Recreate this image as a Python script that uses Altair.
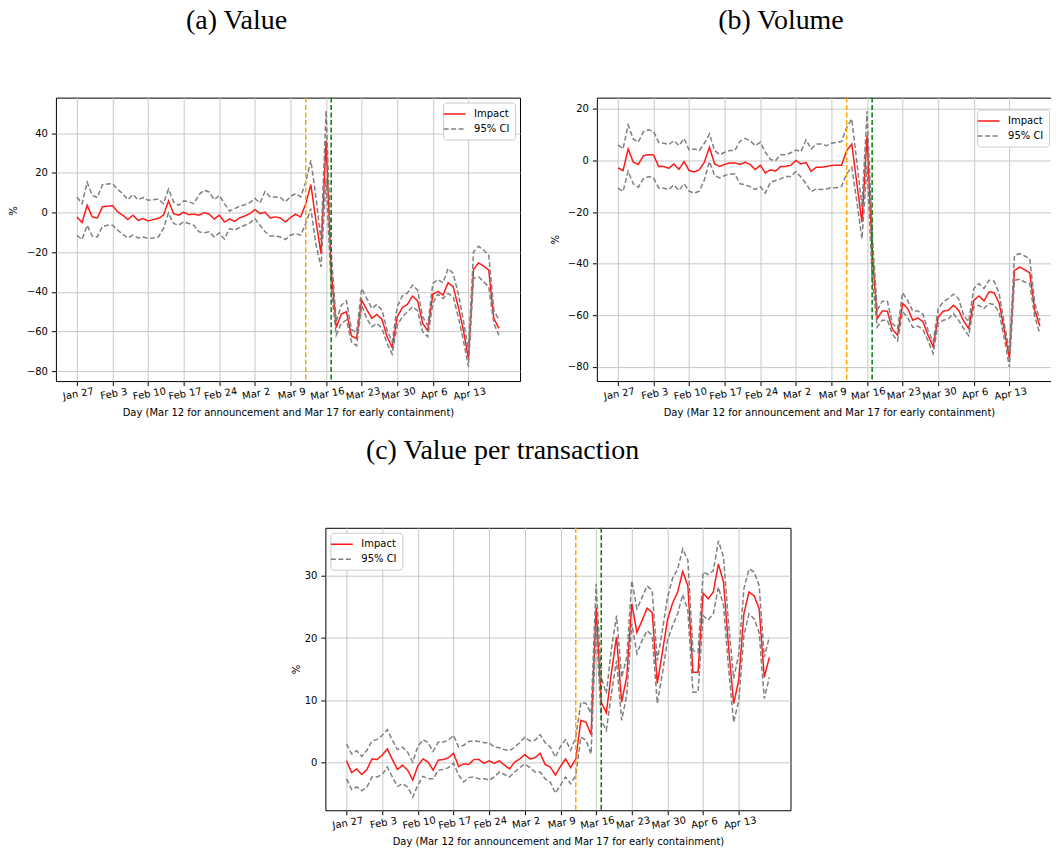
import json
import altair as alt
import pandas as pd

# ---------------- data ----------------
TICK_LABELS = ["Jan 27", "Feb 3", "Feb 10", "Feb 17", "Feb 24", "Mar 2", "Mar 9",
               "Mar 16", "Mar 23", "Mar 30", "Apr 6", "Apr 13"]
SERIES = ["Impact", "95% CI"]
ANNOUNCEMENT_DAY = 45   # Mar 12 (days since Jan 27)
CONTAINMENT_DAY = 50    # Mar 17
X_LABEL = "Day (Mar 12 for announcement and Mar 17 for early containment)"

VALUE_IMPACT = [-2.2, -5, 3.7, -2.2, -2.7, 2.9, 3.2, 3.5, 0.3, -1.3, -3.5, -1.3, -3.9, -3, -4.2,
                -3.5, -3, -1.3, 5.9, -0.5, -1.3, 0.2, -1, -0.8, -1.3, 0, -0.8, -3.2, -1.3, -4.7,
                -3.2, -4.4, -2.7, -1.7, -0.5, 1.5, -0.5, 0.2, -2.7, -2.2, -2.7, -4.7, -2.5, -0.8,
                -2.2, 4.5, 14.1, -4, -20.7, 36.4, -29, -58, -51.2, -50, -62.3, -63.5, -44.2,
                -48.9, -53.4, -51.4, -53.9, -62.6, -68, -52.6, -47.9, -46.3, -42.1, -44.5,
                -55.9, -59.6, -41.1, -39.8, -41.6, -35.4, -37.4, -47.5, -59.3, -73.6, -28.7,
                -25.4, -27, -29, -53.4, -58.4]
VALUE_UPPER = [7.9, 4.5, 15.3, 8.7, 7.6, 14.1, 14.4, 14.6, 11.6, 9.6, 6.5, 9.1, 6.5, 7.6, 6.2,
               6.5, 6.9, 4.5, 11.8, 5.4, 3.7, 5.9, 5.4, 4.5, 9.1, 11.3, 10.4, 6.5, 8.7, 4.5,
               0.8, 2, 3.2, 4, 5, 7.1, 4.9, 10.7, 7.9, 7.9, 7.6, 5.4, 8.2, 9.6, 7.9, 15.4, 26.4,
               8, -14, 51.5, -20, -55, -46.7, -44.5, -59, -60.6, -38.3, -43.3, -48.4, -46.3,
               -49.2, -59.3, -65.2, -47.5, -42.1, -40.5, -36.6, -39.1, -52.6, -56.8, -35.7,
               -33.8, -35.4, -28.2, -30.7, -40.8, -54.2, -69.4, -19.8, -17, -19, -21.5, -49.2,
               -54.2]
VALUE_LOWER = [-11.4, -13.6, -6.4, -11.9, -12.3, -6.9, -6.4, -6.4, -8.9, -10.9, -12.8, -11.4,
               -12.8, -12.3, -13.1, -12.8, -12.3, -8.1, -0.2, -5.5, -6.4, -4.7, -5.5, -6.4,
               -9.7, -10.2, -9.7, -12.3, -10.2, -13.4, -8.1, -8.9, -7.6, -6.4, -5.2, -3, -6.4,
               -9.7, -11.8, -11.8, -12.3, -13.6, -11.4, -10.6, -11.4, -5.5, 2, -16, -27.4, 17.1,
               -38, -61.8, -55.9, -54.2, -65.2, -67.2, -46.7, -53.4, -57.6, -55.9, -58.4, -66,
               -71.4, -56.8, -52.6, -50, -47.5, -49.5, -60.1, -62.6, -45.8, -41.1, -43.3, -40.8,
               -42.5, -52.6, -64.3, -77.7, -33.2, -32.4, -34.9, -37.4, -55.9, -61.8]

VOLUME_IMPACT = [-2.8, -3.9, 4.5, -0.6, -1.5, 1.9, 2.3, 2.2, -2.3, -2.3, -3, -1.3, -3.4, -0.4,
                 -3.9, -4.4, -3.6, -0.6, 5.2, -1.3, -2.3, -1.5, -0.9, -0.9, -1.5, -0.6, -1.5,
                 -3.5, -1.8, -4.8, -3.6, -4.1, -2.3, -2.3, -1.8, 0, -1.3, -0.8, -4.2, -2.6, -2.6,
                 -2.3, -1.9, -1.8, -1.8, 3.9, 6.4, -9, -23.9, 9.7, -35, -61.3, -58.3, -58.4,
                 -65.5, -67.7, -55.4, -57.4, -61.9, -61, -62.5, -67.7, -72.2, -60.6, -58.4, -58,
                 -56.1, -58, -62.2, -65.1, -54.2, -52.5, -54.4, -50.9, -51.2, -55.4, -65.8,
                 -76.7, -42.6, -41.3, -42.3, -43.5, -58, -64.2]
VOLUME_UPPER = [6.1, 4.5, 13.8, 8.4, 7.1, 11.2, 11.9, 11.3, 7.1, 6.7, 6.2, 7.7, 5.8, 8.6, 4.1,
                4.5, 3.9, 6.7, 10.3, 3.9, 2.3, 3.2, 3.9, 3.9, 7.5, 8.6, 7.7, 5.8, 7.1, 3.2, 0.4,
                0, 2.3, 2.3, 3, 4.1, 3.5, 8, 4.5, 6.4, 6.4, 5.8, 6.7, 7.1, 7.4, 12.9, 16.1, -0.6,
                -18, 19.1, -28, -58, -54.5, -54.5, -63.2, -65.1, -51.2, -54.4, -58.3, -58.3,
                -59.6, -65.8, -70.3, -57.4, -54.8, -53.5, -51.8, -53.5, -60, -62.5, -49.6,
                -47.7, -49.6, -46.4, -46.8, -51.6, -63.2, -74.1, -36.8, -36.1, -37, -38, -55.4,
                -61.9]
VOLUME_LOWER = [-10.7, -12, -4.1, -9, -10.3, -7.1, -6.2, -6.7, -10.6, -10.7, -11.2, -9.4, -11.6,
                -9, -11.9, -12.6, -11.9, -7.5, -0.4, -5.8, -6.7, -5.8, -5.2, -5.2, -9, -9.4,
                -10.1, -11.2, -10.1, -12.6, -8.4, -7.7, -7.1, -6.2, -6.2, -4.3, -6.4, -9, -12,
                -11, -11.2, -11, -10.5, -10.5, -10, -5, -2.6, -16, -30.3, -1.9, -45, -64.5,
                -61.9, -61.9, -67.4, -69.9, -58.7, -60.9, -64.7, -64.2, -65.5, -69.9, -74.8,
                -63.2, -61.9, -61.3, -59.3, -61.9, -65.1, -67.9, -56.7, -56.1, -57.4, -55.4,
                -55.8, -59.1, -69, -80, -46.4, -46, -47.1, -47.7, -60.6, -67.1]

VPT_IMPACT = [0.3, -1.6, -1, -1.9, -1.1, 0.6, 0.5, 1.2, 2.2, 0.5, -1.1, -0.4, -1.2, -2.8, -0.5,
              0.6, 0.1, -1.2, 0.4, 0.5, 0.8, 1.5, -0.6, -0.2, -0.3, 0.5, 0.5, -0.1, 0.3, -0.1,
              0.3, -0.4, -1, 0.1, 0.6, 1.3, 0.6, 0.8, 1.5, -0.3, -0.7, -2, -0.6, 0.6, -0.8, 0.6,
              6.8, 6.5, 4.5, 24.9, 9.7, 8, 14.5, 20.2, 9.7, 13.8, 25.5, 20.9, 22.8, 24.8, 24.1,
              12.7, 17.7, 22.9, 25.6, 27.4, 30.7, 28.4, 14.5, 14.5, 27.2, 26.3, 27.4, 31.9, 29,
              18.5, 9.5, 13.3, 23.9, 27.4, 26.8, 24.7, 13.7, 16.9]
VPT_UPPER = [3, 1.4, 1.9, 1, 2, 3.5, 3.7, 4.4, 5.3, 3.6, 2.1, 2.5, 1.7, 0.1, 2.6, 3.7, 3.2, 1.8,
             3.3, 3.3, 3.6, 4.4, 2.5, 2.8, 3.4, 3.5, 3.4, 3.2, 3.2, 2.5, 2.4, 2.1, 1.9, 2.5, 3.2,
             4.1, 3.5, 3.6, 4.5, 3.2, 2.5, 0.9, 2.6, 3.7, 2, 4.1, 9.7, 9.5, 7.9, 28.7, 13.7,
             11.1, 18.3, 23.6, 13.7, 16.9, 29.2, 24.7, 26.5, 28.4, 27.6, 16.4, 21.2, 26.5, 29.6,
             31.1, 34.3, 32.5, 18, 17.7, 30.6, 30.2, 30.8, 35.6, 33, 22.3, 13.5, 17.5, 27.9,
             31.1, 30.6, 28.4, 16.9, 20.2]
VPT_LOWER = [-2.6, -4.3, -3.9, -4.5, -3.9, -2.3, -2.3, -1.9, -0.7, -2.3, -3.8, -3.4, -3.9, -5.5,
             -3.6, -2.2, -2.6, -2.6, -1.2, -1.1, -0.8, -0.1, -2, -3.1, -2.4, -2.3, -2.6, -2.6,
             -2.8, -2.3, -1.5, -1.9, -2.3, -1.5, -0.8, -0.2, -0.8, -1.5, -1.5, -2.6, -3.1, -4.9,
             -3.6, -2.3, -3.4, -2, 4.1, 3.6, 1.4, 22, 6.8, 5.2, 11.1, 16.4, 6.8, 10.8, 22.3,
             17.5, 19.6, 21.2, 20.4, 9.5, 14.3, 19.6, 22, 23.9, 27, 24.4, 11.3, 11.3, 23.6,
             22.9, 23.9, 28.2, 25.2, 15.1, 6.5, 10, 20.4, 23.9, 23.1, 20.9, 10.3, 13.7]

FONT = "DejaVu Sans"
TITLE_FONT = "Liberation Serif"


def panel(impact, lower, upper, ydomain, yvalues, title, title_dx, legend_orient,
          legend_offset, width, height, ytitle_x, ytitle_y=None):
    days = list(range(len(impact)))
    df = pd.concat([
        pd.DataFrame({"day": days, "value": impact, "series": "Impact", "line": "impact"}),
        pd.DataFrame({"day": days, "value": upper, "series": "95% CI", "line": "upper"}),
        pd.DataFrame({"day": days, "value": lower, "series": "95% CI", "line": "lower"}),
    ], ignore_index=True)

    x_enc = alt.X(
        "day:Q",
        scale=alt.Scale(domain=[-4.15, 87.15], nice=False, zero=False),
        axis=alt.Axis(
            values=[7 * k for k in range(len(TICK_LABELS))],
            labelExpr=json.dumps(TICK_LABELS) + "[round(datum.value / 7)]",
            labelAngle=350, labelAlign="center", labelBaseline="top",
            labelOverlap=False, labelFlush=False, labelBound=False, labelPadding=3,
            title=X_LABEL, titleY=34.5, titleBaseline="alphabetic",
        ),
    )
    yaxis = dict(values=yvalues, format="d", labelOverlap=False, labelFlush=False,
                 labelPadding=4, title="%", titleX=ytitle_x, titleBaseline="middle",
                 titleAlign="center")
    if ytitle_y is not None:
        yaxis["titleY"] = ytitle_y
    y_enc = alt.Y("value:Q", scale=alt.Scale(domain=ydomain, nice=False, zero=False),
                  axis=alt.Axis(**yaxis))

    # a 22 px horizontal line symbol drawn inside a small (11 px) symbol box,
    # so that the legend rows stay compact like matplotlib's
    leg = alt.Legend(title=None, orient=legend_orient, offset=legend_offset,
                     symbolType="M-2,0L2,0", symbolSize=121, symbolStrokeWidth=1.5,
                     labelFont=FONT, labelFontSize=10, labelColor="black",
                     padding=5, rowPadding=3, labelOffset=13,
                     strokeColor="#cccccc", fillColor="white", cornerRadius=3)
    color = alt.Color("series:N", scale=alt.Scale(domain=SERIES, range=["#ff1a1a", "#808080"]),
                      legend=leg)
    dash = alt.StrokeDash("series:N", scale=alt.Scale(domain=SERIES, range=[[1, 0], [5, 2.5]]),
                          legend=leg)

    lines = alt.Chart(df).mark_line(strokeWidth=1.5).encode(
        x=x_enc, y=y_enc, color=color, strokeDash=dash, detail="line:N")
    ann = alt.Chart(pd.DataFrame({"day": [ANNOUNCEMENT_DAY]})).mark_rule(
        color="#ffa500", strokeWidth=1.5, strokeDash=[5, 2.5]).encode(x=x_enc)
    cont = alt.Chart(pd.DataFrame({"day": [CONTAINMENT_DAY]})).mark_rule(
        color="#008000", strokeWidth=1.5, strokeDash=[5, 2.5]).encode(x=x_enc)

    return alt.layer(lines, ann, cont).properties(
        width=width, height=height,
        title=alt.TitleParams(text=title, font=TITLE_FONT, fontSize=28, fontWeight="normal",
                              color="black", anchor="middle", frame="group", dx=title_dx,
                              offset=40, baseline="alphabetic"),
    )


panel_a = panel(VALUE_IMPACT, VALUE_LOWER, VALUE_UPPER, [-85, 58], [-80, -60, -40, -20, 0, 20, 40],
                "(a) Value", -51.5, "top-right", 5, 465, 284, -42, 113)
panel_b = panel(VOLUME_IMPACT, VOLUME_LOWER, VOLUME_UPPER, [-85.5, 24.4], [-80, -60, -40, -20, 0, 20],
                "(b) Volume", -48, "top-right", 12, 465, 284, -41)
panel_c = panel(VPT_IMPACT, VPT_LOWER, VPT_UPPER, [-7.64, 37.7], [0, 10, 20, 30],
                "(c) Value per transaction", -55.5, "top-left", 5, 466, 283, -29)

spacer = alt.Chart(pd.DataFrame({"s": [0]})).mark_point(opacity=0).encode(
    x=alt.X("s:Q", axis=None), y=alt.Y("s:Q", axis=None)
).properties(width=260, height=10, view=alt.ViewBackground(stroke="transparent"))

top_row = alt.hconcat(panel_a, panel_b, spacing=77, bounds="flush").resolve_scale(
    color="independent", strokeDash="independent")
bottom_row = alt.hconcat(spacer, panel_c, spacing=10, bounds="flush").resolve_scale(
    color="independent", strokeDash="independent")

chart = alt.vconcat(top_row, bottom_row, spacing=18).resolve_scale(
    color="independent", strokeDash="independent"
).properties(
    padding={"top": -3, "left": 0, "right": -11, "bottom": -1}, background="white"
).configure_view(
    stroke="black", strokeWidth=1
).configure_axis(
    labelFont=FONT, labelFontSize=10, labelColor="black",
    titleFont=FONT, titleFontSize=10, titleFontWeight="normal", titleColor="black",
    tickColor="black", tickSize=4.5, tickWidth=1, domain=False,
    gridColor="#c8c8c8", gridWidth=1,
)

chart.save("out.html", embed_options={"renderer": "svg", "actions": False})
